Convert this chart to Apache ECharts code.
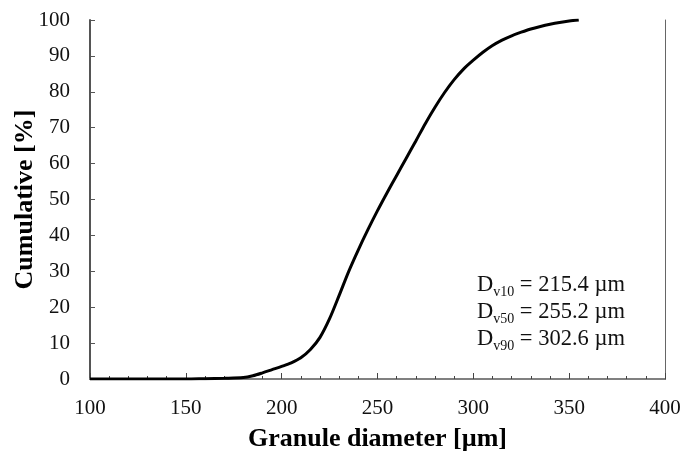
<!DOCTYPE html>
<html>
<head>
<meta charset="utf-8">
<script src="https://cdn.jsdelivr.net/npm/echarts@6/dist/echarts.min.js"></script>
<style>
html,body{margin:0;padding:0;background:#fff;}
#chart{width:683px;height:452px;}
</style>
</head>
<body>
<div id="chart"></div>
<script>
// Granule diameter [µm]
var diameter = [100, 150, 160, 170, 180, 185, 190, 195, 200, 205, 210, 215, 220, 225, 230, 235, 240, 245, 250, 255, 260, 265, 270, 275, 280, 285, 290, 295, 300, 305, 310, 315, 320, 325, 330, 335, 340, 345, 350, 355];
// Cumulative [%]
var cumulative = [0, 0, 0.1, 0.2, 0.4, 0.9, 1.7, 2.6, 3.5, 4.5, 5.9, 8.2, 11.6, 16.8, 23.3, 30.0, 36.0, 41.6, 46.9, 51.9, 56.7, 61.5, 66.3, 71.2, 75.7, 79.8, 83.4, 86.4, 88.8, 91.0, 92.9, 94.4, 95.6, 96.6, 97.5, 98.2, 98.8, 99.3, 99.7, 100];
var xTicks = [100, 150, 200, 250, 300, 350, 400];
var yTicks = [0, 10, 20, 30, 40, 50, 60, 70, 80, 90, 100];
var annotLabels = ['v10', 'v50', 'v90'];
var annotValues = ['215.4', '255.2', '302.6'];

var FONT = 'Liberation Serif';
var chart = echarts.init(document.getElementById('chart'), null, {renderer: 'canvas'});
var data = diameter.map(function (d, i) { return [d, cumulative[i]]; });

var annotText = annotLabels.map(function (l, i) {
  return '{d|D}{s|' + l + '}{d| = ' + annotValues[i] + ' µm}';
}).join('\n');

chart.setOption({
  animation: false,
  backgroundColor: '#fff',
  grid: {left: 90, right: 18, top: 20, bottom: 73, containLabel: false, outerBoundsMode: 'none'},
  xAxis: [{
    type: 'value',
    min: xTicks[0], max: xTicks[xTicks.length - 1], interval: 50,
    name: 'Granule diameter [µm]',
    nameLocation: 'middle', nameGap: 47, nameMoveOverlap: false,
    nameTextStyle: {fontFamily: FONT, fontWeight: 'bold', fontSize: 26, color: '#000'},
    axisLine: {lineStyle: {color: '#222', width: 2}},
    axisTick: {inside: true, length: 6, lineStyle: {color: '#444'}},
    minorTick: {show: true, splitNumber: 5, length: 3, lineStyle: {color: '#444'}},
    splitLine: {show: false},
    axisLabel: {fontFamily: FONT, fontSize: 21, color: '#111', margin: 19}
  }, {
    type: 'value', position: 'top',
    min: xTicks[0], max: xTicks[xTicks.length - 1],
    axisLine: {show: true, lineStyle: {color: '#808080', width: 2}},
    axisTick: {show: false}, axisLabel: {show: false}, splitLine: {show: false}
  }],
  yAxis: [{
    type: 'value',
    min: yTicks[0], max: yTicks[yTicks.length - 1], interval: 10,
    name: 'Cumulative [%]',
    nameLocation: 'middle', nameGap: 52, nameRotate: 90, nameMoveOverlap: false,
    nameTextStyle: {fontFamily: FONT, fontWeight: 'bold', fontSize: 26, color: '#000'},
    axisLine: {show: true, lineStyle: {color: '#555', width: 2}},
    axisTick: {show: true, inside: true, length: 5, lineStyle: {color: '#555'}},
    splitLine: {show: false},
    axisLabel: {fontFamily: FONT, fontSize: 21, color: '#111', margin: 20}
  }, {
    type: 'value', position: 'right',
    min: yTicks[0], max: yTicks[yTicks.length - 1],
    axisLine: {show: true, lineStyle: {color: '#666', width: 1}},
    axisTick: {show: false}, axisLabel: {show: false}, splitLine: {show: false}
  }],
  series: [{
    type: 'line',
    data: data,
    smooth: 0.3,
    showSymbol: false,
    lineStyle: {color: '#000', width: 3},
    z: 5
  }],
  graphic: [{
    type: 'text',
    left: 477, top: 272,
    style: {
      text: annotText,
      lineHeight: 27,
      rich: {
        d: {fontFamily: FONT, fontSize: 22.5, fill: '#111', lineHeight: 27},
        s: {fontFamily: FONT, fontSize: 14, fill: '#111', verticalAlign: 'bottom', lineHeight: 27}
      }
    }
  }]
});
</script>
</body>
</html>
